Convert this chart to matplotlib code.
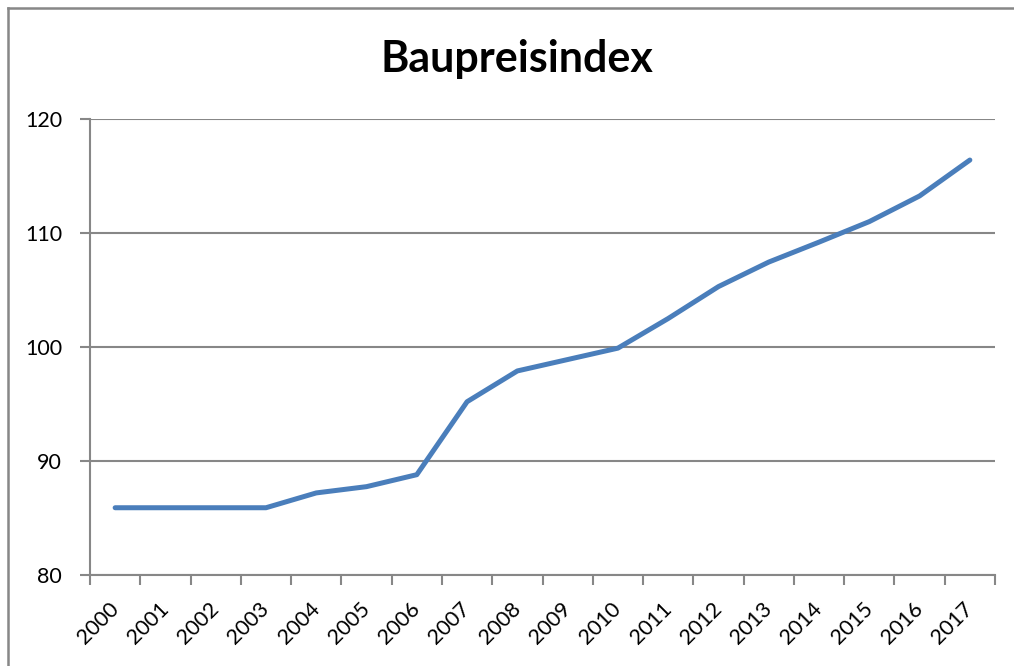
import matplotlib
matplotlib.use("Agg")
import matplotlib.pyplot as plt
from matplotlib.lines import Line2D
from matplotlib.transforms import ScaledTranslation

plt.rcParams["font.family"] = ["Lato", "DejaVu Sans"]

years = [str(y) for y in range(2000, 2018)]
index_values = [85.9, 85.9, 85.9, 85.9, 87.2, 87.75, 88.8, 95.2, 97.9,
                98.9, 99.9, 102.5, 105.3, 107.45, 109.2, 111.0, 113.25, 116.4]
y_ticks = [80, 90, 100, 110, 120]

GRID = "#878787"
LINE = "#4a7ebb"

fig = plt.figure(figsize=(10.14, 6.66), dpi=100)
ax = fig.add_axes([90 / 1014, 1 - 575 / 666, 905 / 1014, 456 / 666])

x = [i + 0.5 for i in range(len(years))]
ax.plot(x, index_values, color=LINE, linewidth=3.6, solid_capstyle="round",
        solid_joinstyle="round", zorder=3)

ax.set_xlim(0, len(years))
ax.set_ylim(80, 120)
ax.set_yticks(y_ticks)
ax.set_xticks(range(len(years) + 1))
ax.set_xticklabels([])
ax.set_xticks(x, minor=True)
ax.set_xticklabels(years, minor=True, rotation=45, ha="right",
                   rotation_mode="anchor", fontsize=15.5)
ax.tick_params(axis="x", which="minor", length=0, pad=17)
ax.tick_params(axis="x", which="major", length=7, width=1.5, color=GRID)
ax.tick_params(axis="y", length=7, width=1.5, color=GRID, labelsize=15.5,
               pad=13)

# nudge the slanted year labels a little to the left
shift = ScaledTranslation(-5 / 72, 0, fig.dpi_scale_trans)
for lbl in ax.get_xticklabels(minor=True):
    lbl.set_transform(lbl.get_transform() + shift)

ax.grid(axis="y", color=GRID, linewidth=1.5)
ax.set_axisbelow(True)
for side in ("top", "right"):
    ax.spines[side].set_visible(False)
for side in ("left", "bottom"):
    ax.spines[side].set_color(GRID)
    ax.spines[side].set_linewidth(1.5)

fig.text(0.51, 1 - 72 / 666, "Baupreisindex", ha="center", va="baseline",
         fontsize=31, fontweight="bold")

# outer chart frame (left and top edges)
fig.add_artist(Line2D([7.5 / 1014, 7.5 / 1014], [0, 1 - 7.5 / 666],
                      transform=fig.transFigure, color=GRID, linewidth=1.8))
fig.add_artist(Line2D([7.5 / 1014, 1], [1 - 7.5 / 666, 1 - 7.5 / 666],
                      transform=fig.transFigure, color=GRID, linewidth=1.8))

fig.savefig("out.png", dpi=100)
